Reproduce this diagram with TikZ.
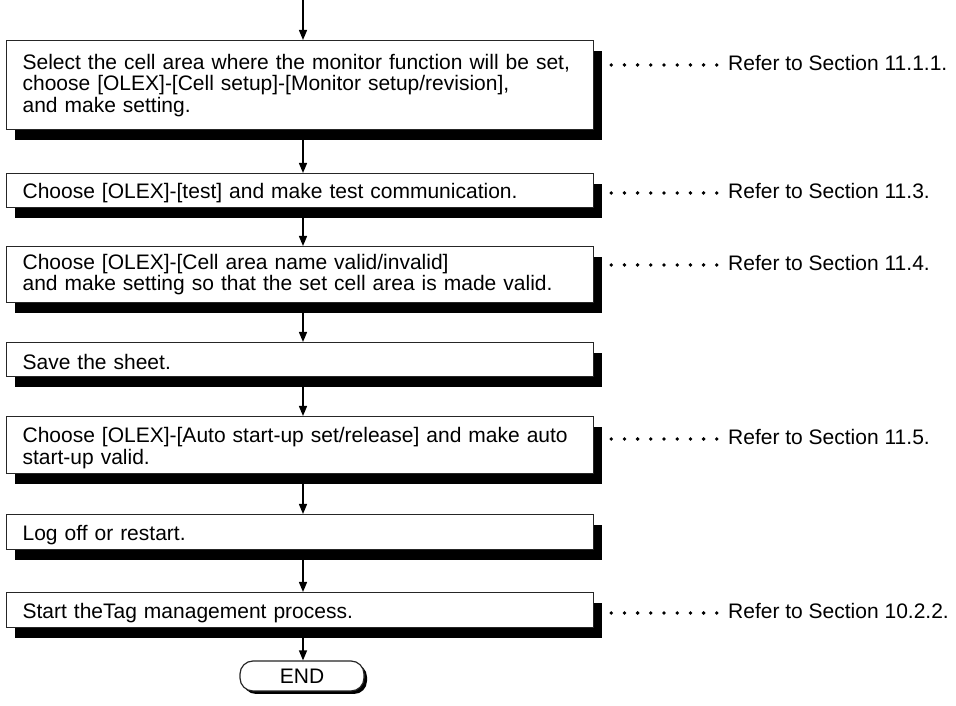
\documentclass[tikz,border=0pt]{standalone}
\usepackage{fontspec}
\setmainfont{Liberation Sans}
\usetikzlibrary{arrows.meta,shadows,calc}
\newcommand{\lowfirst}{\rule{0pt}{21pt}}
\begin{document}
\begin{tikzpicture}[x=1pt,y=1pt,
  txt/.style={font=\fontsize{21}{21.5}\selectfont},
  stepbox/.style={txt, draw=black!85, line width=1.2pt, fill=white, anchor=north west,
    text width=555pt, align=left, inner xsep=16pt, inner ysep=0pt,
    drop shadow={shadow xshift=8pt, shadow yshift=-10pt, fill=black, opacity=1}},
  endbox/.style={txt, draw=black!85, line width=1.2pt, fill=white, rounded corners=13pt,
    minimum width=124pt, minimum height=30pt, inner sep=0pt,
    drop shadow={shadow xshift=3pt, shadow yshift=-3pt, fill=black, opacity=1}},
  refer/.style={txt, anchor=west, inner sep=0pt},
  conn/.style={line width=1.4pt, -{Triangle[length=10pt,width=8pt]}},
  leader/.style={line width=3.8pt, line cap=round, dash pattern=on 0pt off 13.2pt}
]
\useasboundingbox (0,0) rectangle (956,706);

\node[stepbox, minimum height=89pt] (b1) at (6,666)
  {Select the cell area where the monitor function will be set,\\
   choose [OLEX]-[Cell setup]-[Monitor setup/revision],\\
   and make setting.};
\node[stepbox, minimum height=34pt] (b2) at (6,533)
  {\lowfirst Choose [OLEX]-[test] and make test communication.};
\node[stepbox, minimum height=56pt] (b3) at (6,460)
  {Choose [OLEX]-[Cell area name valid/invalid]\\
   and make setting so that the set cell area is made valid.};
\node[stepbox, minimum height=34pt] (b4) at (6,364)
  {\lowfirst Save the sheet.};
\node[stepbox, minimum height=57pt] (b5) at (6,290)
  {\lowfirst Choose [OLEX]-[Auto start-up set/release] and make auto\\
   start-up valid.};
\node[stepbox, minimum height=35pt] (b6) at (6,192)
  {\lowfirst Log off or restart.};
\node[stepbox, minimum height=35pt] (b7) at (6,114)
  {\lowfirst Start theTag management process.};
\node[endbox] (e) at (302,30) {END};

\node[refer] (r1) at (728,643) {Refer to Section 11.1.1.};
\node[refer] (r2) at (728,515) {Refer to Section 11.3.};
\node[refer] (r3) at (728,443) {Refer to Section 11.4.};
\node[refer] (r5) at (728,269) {Refer to Section 11.5.};
\node[refer] (r7) at (728,95) {Refer to Section 10.2.2.};

\coordinate (start) at (303,706);
\draw[conn] (start) -- (start |- b1.north);
\draw[conn] (b1.south -| start) -- (b2.north -| start);
\draw[conn] (b2.south -| start) -- (b3.north -| start);
\draw[conn] (b3.south -| start) -- (b4.north -| start);
\draw[conn] (b4.south -| start) -- (b5.north -| start);
\draw[conn] (b5.south -| start) -- (b6.north -| start);
\draw[conn] (b6.south -| start) -- (b7.north -| start);
\draw[conn] (b7.south -| start) -- (e.north -| start);

\foreach \b/\r in {b1/r1, b2/r2, b3/r3, b5/r5, b7/r7}{
  \draw[leader] ($(\b.east |- \r.west)+(17,-2)$) -- ($(\r.west)+(-11,-2)$);
}
\end{tikzpicture}
\end{document}
